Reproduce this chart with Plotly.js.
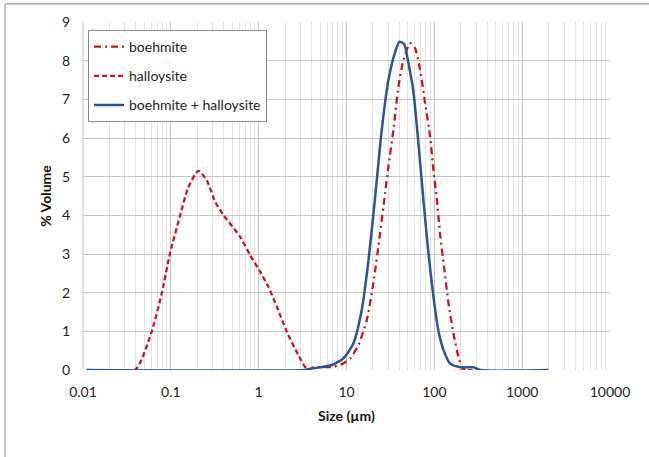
<!DOCTYPE html>
<html>
<head>
<meta charset="utf-8">
<script src="https://cdn.plot.ly/plotly-3.0.1.min.js"></script>
<style>html,body{margin:0;padding:0;background:#fff;}#chart{width:649px;height:457px;}</style>
</head>
<body>
<div id="chart"></div>
<script>
// Size (µm) and % Volume
const boehmiteX = [3.6, 4.17, 7.03, 9.2, 11.0, 13.7, 17.0, 20.2, 24.1, 27.5, 30.0, 34.2, 39.0, 44.5, 53.0, 60.4, 68.9, 78.5, 89.5, 97.7, 107, 116, 129, 145, 165, 188, 206, 224];
const boehmiteY = [0, 0.07, 0.08, 0.17, 0.30, 0.65, 1.29, 2.24, 3.53, 4.57, 5.26, 6.21, 7.33, 8.02, 8.45, 8.32, 7.76, 6.90, 6.03, 5.17, 4.40, 3.53, 2.67, 1.72, 0.95, 0.34, 0.08, 0];

const halloysiteX = [0.011, 0.039, 0.0605, 0.0787, 0.098, 0.127, 0.158, 0.206, 0.256, 0.32, 0.396, 0.614, 0.80, 1.04, 1.29, 1.61, 2.09, 2.83, 3.68, 300];
const halloysiteY = [0, 0, 0.99, 1.98, 3.02, 3.98, 4.72, 5.15, 4.91, 4.35, 4.01, 3.45, 2.97, 2.54, 2.15, 1.64, 0.99, 0.39, 0, 0];

const mixX = [0.011, 3.4, 3.68, 5.0, 6.8, 9.2, 12.0, 14.9, 17.8, 21.2, 25.2, 30.0, 35.8, 40.0, 45.3, 50.7, 57.8, 65.9, 75.1, 85.7, 97.7, 111, 127, 151, 197, 279, 333, 2000];
const mixY = [0, 0, 0.02, 0.07, 0.13, 0.30, 0.69, 1.55, 2.84, 4.48, 6.21, 7.50, 8.23, 8.49, 8.43, 7.93, 7.20, 5.86, 4.40, 3.02, 1.90, 1.03, 0.52, 0.17, 0.07, 0.07, 0, 0];

const xTickVals = [0.01, 0.1, 1, 10, 100, 1000, 10000];
const xTickText = ['0.01', '0.1', '1', '10', '100', '1000', '10000'];
const seriesNames = ['boehmite', 'halloysite', 'boehmite + halloysite'];

const red = '#C8161D';
const blue = '#2A5592';
const font = 'Lato, "Noto Sans", "Liberation Sans", sans-serif';

const traces = [
  {x: boehmiteX, y: boehmiteY, name: seriesNames[0], mode: 'lines', legendgroup: 'a',
   line: {color: red, width: 2.3, dash: '7px,4px,2px,4px', shape: 'spline', smoothing: 0.6}},
  {x: halloysiteX, y: halloysiteY, name: seriesNames[1], mode: 'lines', legendgroup: 'b',
   line: {color: red, width: 2.3, dash: '5px,3px', shape: 'spline', smoothing: 0.6}},
  {x: mixX, y: mixY, name: seriesNames[2], mode: 'lines', legendgroup: 'c',
   line: {color: blue, width: 2.5, shape: 'spline', smoothing: 0.6}}
];

const layout = {
  width: 649, height: 457,
  margin: {l: 83, r: 39, t: 22, b: 87},
  paper_bgcolor: '#fff', plot_bgcolor: '#fff',
  font: {family: font, size: 14, color: '#222'},
  showlegend: true,
  legend: {x: 0.0095, y: 0.977, xanchor: 'left', yanchor: 'top',
    bgcolor: '#fff', bordercolor: '#888', borderwidth: 1,
    font: {family: font, size: 14, color: '#222'},
    traceorder: 'grouped', tracegroupgap: 8, itemwidth: 30},
  xaxis: {type: 'log', range: [-2, 4], tickmode: 'array', tickvals: xTickVals, ticktext: xTickText,
    showgrid: true, gridcolor: '#c4c4c4', gridwidth: 1, zeroline: false, showline: false,
    ticks: '', ticklabelstandoff: 12,
    minor: {dtick: 'D1', showgrid: true, gridcolor: '#e2e2e2', gridwidth: 1, ticks: ''},
    title: {text: 'Size (µm)', font: {family: font, size: 14, color: '#111', weight: 'bold'}, standoff: 12}},
  yaxis: {range: [0, 9], dtick: 1, showgrid: true, gridcolor: '#c4c4c4', zeroline: false,
    showline: false, ticks: '', ticklabelstandoff: 12,
    title: {text: '% Volume', font: {family: font, size: 14, color: '#111', weight: 'bold'}, standoff: 6}},
  shapes: [
    {type: 'line', xref: 'paper', yref: 'paper', x0: -0.148, x1: -0.148, y0: 1.052, y1: -0.26, line: {color: '#999', width: 1.2}},
    {type: 'line', xref: 'paper', yref: 'paper', x0: -0.148, x1: 1.08, y0: 1.052, y1: 1.052, line: {color: '#999', width: 1.2}},
    {type: 'line', xref: 'paper', yref: 'paper', x0: 0, x1: 0, y0: 0, y1: 1, line: {color: '#c4c4c4', width: 1}}
  ]
};

Plotly.newPlot('chart', traces, layout, {displayModeBar: false, staticPlot: true});
</script>
</body>
</html>
